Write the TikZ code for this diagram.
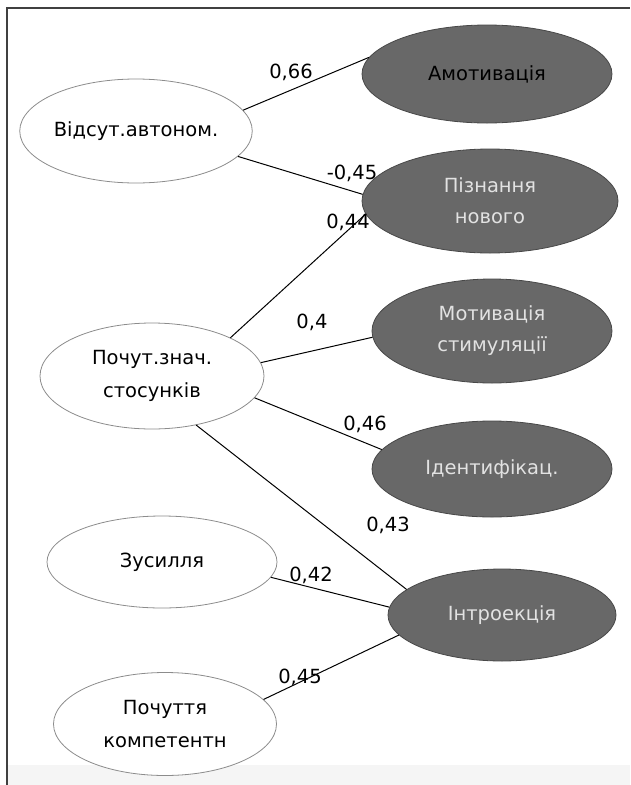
\documentclass[tikz,border=0pt]{standalone}
\usepackage{fontspec}
\setmainfont{DejaVu Sans}
\usetikzlibrary{shapes.geometric}
\definecolor{ovalgray}{RGB}{104,104,104}
\definecolor{ovalline}{RGB}{72,72,72}
\definecolor{rimgray}{RGB}{140,140,140}
\definecolor{lighttext}{RGB}{226,226,226}
\definecolor{bandgray}{RGB}{245,245,245}

\begin{document}
\begin{tikzpicture}[x=1pt, y=-1pt,
  factor/.style={ellipse, draw=rimgray, fill=white, line width=0.8pt, inner sep=0pt, align=center, font=\fontsize{19.5}{33}\selectfont},
  latent/.style={ellipse, draw=ovalline, fill=ovalgray, line width=0.8pt, inner sep=0pt, align=center, text=lighttext, font=\fontsize{19.5}{31}\selectfont},
  coef/.style={font=\fontsize{19.5}{21}\selectfont, inner sep=1pt},
  link/.style={black, line width=1pt}]
  \useasboundingbox (0,0) rectangle (630,785);
  \fill[bandgray] (7,765) rectangle (630,785);
  \draw[darkgray, line width=1.2pt] (7,785) -- (7,8) -- (630,8);

  \node[factor, minimum width=232pt, minimum height=104pt] (avt) at (136,131) {Відсут.автоном.};
  \node[factor, minimum width=224pt, minimum height=106pt] (pochut) at (152,376) {Почут.знач.\\стосунків};
  \node[factor, minimum width=230pt, minimum height=92pt] (zus) at (162,562) {Зусилля};
  \node[factor, minimum width=223pt, minimum height=103pt] (pochk) at (165,724) {Почуття\\компетентн};

  \node[latent, text=black, minimum width=250pt, minimum height=98pt] (amot) at (487,74) {Амотивація};
  \node[latent, minimum width=256pt, minimum height=104pt] (pizn) at (490,201) {Пізнання\\нового};
  \node[latent, minimum width=240pt, minimum height=104pt] (motyv) at (492,331) {Мотивація\\стимуляції};
  \node[latent, minimum width=240pt, minimum height=96pt] (ident) at (492,469) {Ідентифікац.};
  \node[latent, minimum width=228pt, minimum height=92pt] (intro) at (502,615) {Інтроекція};

  \draw[link] (avt.11) -- (amot.172);
  \draw[link] (avt.-14) -- (pizn.177);
  \draw[link] (pochut.26) -- (pizn.186);
  \draw[link] (pochut.7) -- (motyv.183);
  \draw[link] (pochut.-12) -- (ident.170);
  \draw[link] (pochut.-48) -- (intro.165);
  \draw[link] (zus.-8) -- (intro.176);
  \draw[link] (pochk.14) -- (intro.191);

  \node[coef] (c66) at (291,72) {0,66};
  \node[coef] (c45a) at (352,173) {-0,45};
  \node[coef] (c44) at (348,222) {0,44};
  \node[coef] (c4) at (312,322) {0,4};
  \node[coef] (c46) at (365,424) {0,46};
  \node[coef] (c43) at (388,525) {0,43};
  \node[coef] (c42) at (311,575) {0,42};
  \node[coef] (c45b) at (300,677) {0,45};
\end{tikzpicture}
\end{document}
